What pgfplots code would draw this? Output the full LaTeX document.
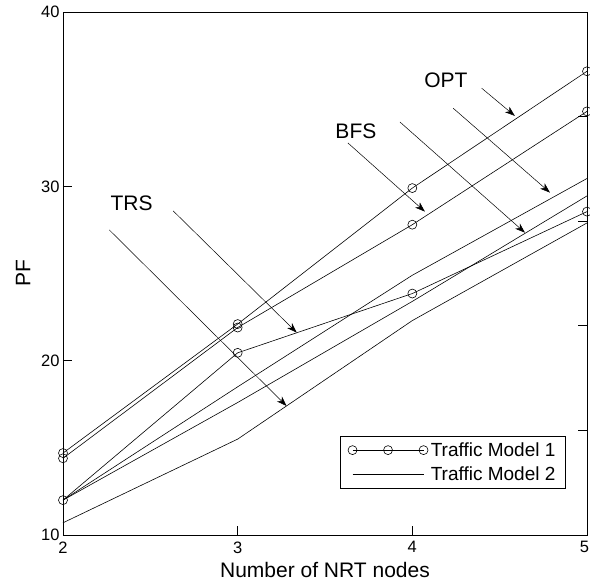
\documentclass[border=0pt]{standalone}
\usepackage{pgfplots}
\pgfplotsset{compat=1.18}
\usepackage{fontspec}
\setmainfont{Liberation Sans}
\usetikzlibrary{arrows.meta}
\pgfplotsset{
  legcirc/.style={legend image code/.code={\draw[mark repeat=1,##1] plot coordinates {(0bp,0bp) (35.5bp,0bp) (71bp,0bp)};\path (76bp,0bp);}},
  legline/.style={legend image code/.code={\draw[##1] (0bp,0bp) -- (71bp,0bp);\path (76bp,0bp);}},
}

\begin{document}
\begin{tikzpicture}
\begin{axis}[
  at={(0bp,0bp)}, anchor=south west,
  scale only axis, width=524bp, height=523bp,
  xmin=2, xmax=5, ymin=10, ymax=40,
  xtick={2,3,4,5}, ytick={10,20,30,40},
  xticklabels={2,3,4,{\hspace*{-5bp}5}},
  xtick pos=bottom, ytick pos=left,
  tick align=inside, major tick length=9bp,
  tick style={black, line width=0.6pt},
  axis line style={black, line width=0.6pt},
  /pgf/number format/assume math mode=true,
  tick label style={font=\fontsize{16.5bp}{18bp}\selectfont},
  xticklabel style={yshift=-3bp},
  xlabel={Number of NRT nodes}, ylabel={PF},
  label style={font=\fontsize{21bp}{23bp}\selectfont},
  xlabel style={yshift=-2bp},
  ylabel style={yshift=4bp},
  legend style={at={(0.9594,0.0893)}, anchor=south east, draw=black, line width=0.6pt,
    fill=white, font=\fontsize{19bp}{21bp}\selectfont, inner xsep=8bp, inner ysep=4bp,
    row sep=5bp, cells={anchor=west}},
  legend cell align=left,
  every axis plot/.append style={black, line width=0.6pt},
]
\addlegendimage{black, line width=0.6pt, mark=o, mark size=4.5bp, legcirc}
\addlegendentry{Traffic Model 1}
\addlegendimage{black, line width=0.6pt, legline}
\addlegendentry{Traffic Model 2}

% Traffic Model 1 (circles)
\addplot[mark=o, mark size=4.5bp, forget plot] coordinates {(2,14.7) (3,22.1) (4,29.9) (5,36.6)}; % OPT
\addplot[mark=o, mark size=4.5bp, forget plot] coordinates {(2,14.4) (3,21.9) (4,27.8) (5,34.3)}; % BFS
\addplot[mark=o, mark size=4.5bp, forget plot] coordinates {(2,12.0) (3,20.45) (4,23.85) (5,28.55)}; % TRS
% Traffic Model 2 (plain lines)
\addplot[forget plot] coordinates {(2,12.0) (3,18.5) (4,24.9) (5,30.45)}; % OPT
\addplot[forget plot] coordinates {(2,12.0) (3,17.6) (4,23.4) (5,29.45)}; % BFS
\addplot[forget plot] coordinates {(2,10.7) (3,15.5) (4,22.3) (5,27.9)}; % TRS

% annotations
\node[font=\fontsize{21bp}{23bp}\selectfont] at (axis cs:4.192,36.06) {OPT};
\node[font=\fontsize{21bp}{23bp}\selectfont] at (axis cs:3.677,33.18) {BFS};
\node[font=\fontsize{21bp}{23bp}\selectfont] at (axis cs:2.393,29.03) {TRS};
\draw[-{Stealth[length=10bp,width=7bp,inset=3bp]}, black, line width=0.5pt] (axis cs:4.397,35.63) -- (axis cs:4.587,34.04);
\draw[-{Stealth[length=10bp,width=7bp,inset=3bp]}, black, line width=0.5pt] (axis cs:4.234,34.48) -- (axis cs:4.788,29.64);
\draw[-{Stealth[length=10bp,width=7bp,inset=3bp]}, black, line width=0.5pt] (axis cs:3.631,32.49) -- (axis cs:4.072,28.55);
\draw[-{Stealth[length=10bp,width=7bp,inset=3bp]}, black, line width=0.5pt] (axis cs:3.929,33.69) -- (axis cs:4.645,27.34);
\draw[-{Stealth[length=10bp,width=7bp,inset=3bp]}, black, line width=0.5pt] (axis cs:2.631,28.59) -- (axis cs:3.338,21.61);
\draw[-{Stealth[length=10bp,width=7bp,inset=3bp]}, black, line width=0.5pt] (axis cs:2.265,27.50) -- (axis cs:3.280,17.40);
\end{axis}
% right-hand ticks of the overlaid axes
\begin{axis}[
  at={(0bp,0bp)}, anchor=south west,
  scale only axis, width=524bp, height=523bp,
  xmin=2, xmax=5, ymin=10, ymax=40,
  axis line style={draw=none},
  xtick=\empty, ytick={16,22,28,34}, yticklabels={},
  ytick pos=right, tick align=inside, major tick length=9bp,
  tick style={black, line width=0.6pt},
]
\end{axis}
\pgfresetboundingbox
\path (-63bp,-50bp) rectangle (527bp,535bp);
\end{tikzpicture}
\end{document}
